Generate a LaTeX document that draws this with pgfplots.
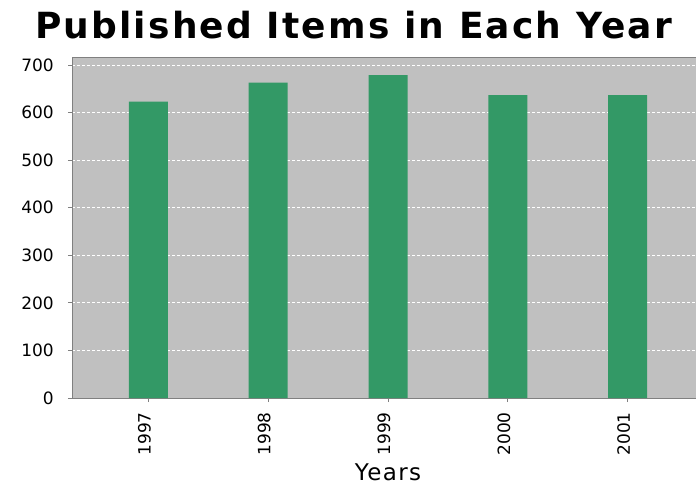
\documentclass[border=0pt]{standalone}
\usepackage{pgfplots}
\pgfplotsset{compat=1.18}
\usepackage{fontspec}
\setmainfont{DejaVu Sans}
\newfontfamily\titlefont[LetterSpace=6]{DejaVu Sans}
\newfontfamily\labfont[LetterSpace=6]{DejaVu Sans}
\definecolor{bargreen}{RGB}{51,153,102}
\definecolor{bggray}{RGB}{192,192,192}
\definecolor{axgray}{RGB}{128,128,128}
\begin{document}
\begin{tikzpicture}
\begin{axis}[
  at={(0,0)}, anchor=south west,
  scale only axis, width=632pt, height=341pt,
  xmin=-0.6375, xmax=4.6375, ymin=0, ymax=717,
  axis background/.style={fill=bggray},
  axis line style={draw=axgray, line width=0.8pt},
  ybar, bar width=39pt,
  xtick={0,1,2,3,4}, xticklabels={1997,1998,1999,2000,2001},
  ytick={0,100,...,700},
  tick align=outside, major tick length=4pt,
  tick style={draw=axgray, line width=0.8pt},
  xtick pos=bottom, ytick pos=left,
  ymajorgrids,
  grid style={white, line width=0.8pt, dash pattern=on 3pt off 2pt},
  /pgf/number format/assume math mode=true,
  ticklabel style={font=\fontsize{17}{20}\selectfont},
  yticklabel style={anchor=east, inner sep=0pt, xshift=-14pt},
  xticklabel style={xshift=-4pt, yshift=-10pt, rotate=90, anchor=east, inner sep=0pt},
  xlabel={Years},
  xlabel style={font=\labfont\fontsize{23}{27}\selectfont, at={(axis description cs:0.5,0)}, anchor=base, yshift=-82pt},
]
\addplot[fill=bargreen, draw=none] coordinates {(0,623) (1,663) (2,679) (3,637) (4,637)};
\end{axis}
\node[anchor=base, font=\titlefont\bfseries\fontsize{36}{40}\selectfont, inner sep=0pt] at (281.5pt,359pt) {Published Items in Each Year};
\pgfresetboundingbox
\path[use as bounding box] (-72pt,-87pt) rectangle (624pt,398pt);
\end{tikzpicture}
\end{document}
